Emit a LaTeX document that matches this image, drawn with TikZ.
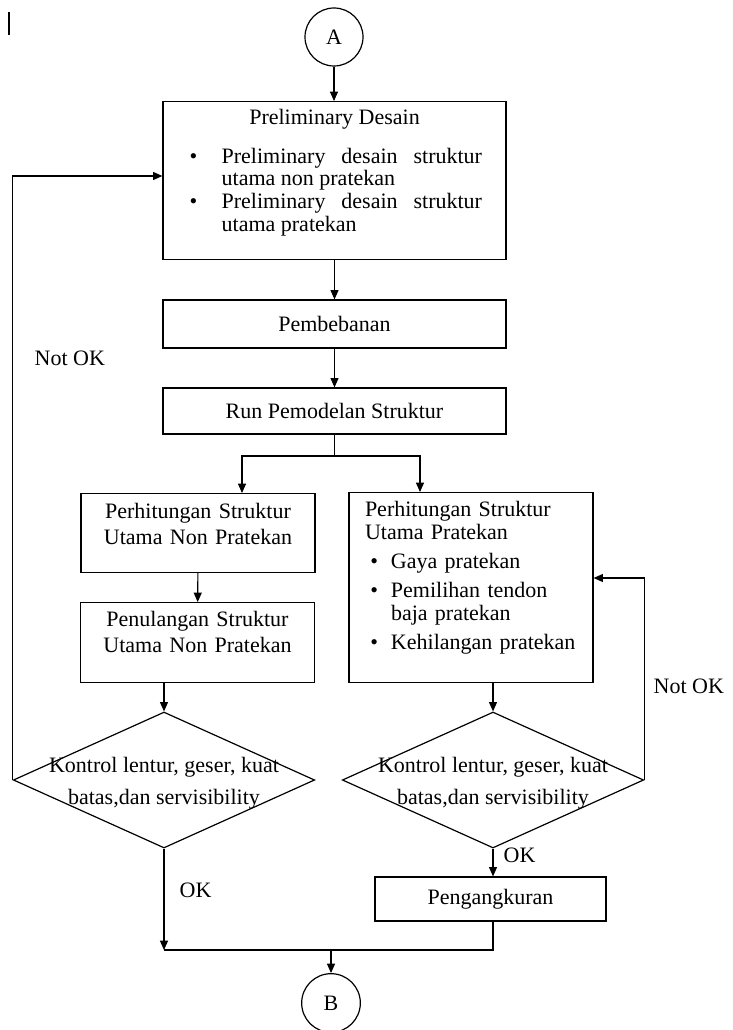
\documentclass[tikz,border=0pt]{standalone}
\usepackage{fontspec}
\setmainfont{Liberation Serif}
\usepackage{tikz}
\usetikzlibrary{positioning,arrows.meta,shapes.geometric,calc}
\definecolor{cInk}{HTML}{000000}
\setlength{\parindent}{0pt}
% bullet line: #1 bullet offset, #2 text indent, #3 text
\newcommand{\bulitem}[3]{\par\noindent\hangindent=#2\hangafter=1\makebox[#2][l]{\hspace*{#1}\textbullet}#3\par}

\begin{document}
\begin{tikzpicture}[
  x=0.75pt, y=-0.75pt,
  font=\fontsize{16.5}{19.5}\selectfont,
  line/.style={-{Triangle[length=7pt,width=6pt]}, cInk, line width=0.8pt},
  wire/.style={cInk, line width=0.8pt},
  box/.style={draw=cInk, line width=0.9pt, rectangle, inner xsep=3pt, inner ysep=4pt},
  conn/.style={draw=cInk, line width=0.9pt, circle, inner sep=0pt},
  decide/.style={draw=cInk, line width=0.9pt, diamond, minimum width=226pt, minimum height=102pt, inner sep=0pt},
  dtxt/.style={align=center, font=\fontsize{16.5}{24}\selectfont},
  lbl/.style={anchor=west},
]
\useasboundingbox (0,0) rectangle (732,1030);
\draw[cInk, line width=1.4pt] (9,12) -- (9,35);

% ---------- top: connector A, preliminary design ----------
\node[conn, minimum size=43.5pt] (conA) at (334,37) {A};
\node[box, anchor=north, text width=221.25pt, inner xsep=18pt, align=justify,
      text height=13.25pt, text depth=97.25pt, font=\fontsize{16.5}{17}\selectfont] (prelim) at (334.5,101)
  {{\centering Preliminary Desain\par}\vspace{12pt}
   \bulitem{2pt}{26pt}{Preliminary desain struktur\linebreak utama non pratekan}
   \bulitem{2pt}{26pt}{Preliminary desain struktur\linebreak utama pratekan}};

% ---------- loading and model run ----------
\node[box, minimum width=257.25pt, minimum height=36pt] (pemb) at (334.5,324) {Pembebanan};
\node[box, minimum width=257.25pt, minimum height=34.5pt] (run) at (334.5,411) {Run Pemodelan Struktur};

% ---------- left branch: non prestressed ----------
\node[box, anchor=north, text width=160pt, inner xsep=7.75pt, align=center,
      text height=14.75pt, text depth=36.5pt] (hitNP) at (198,493)
  {Perhitungan Struktur\\Utama Non Pratekan};
\node[box, anchor=north, text width=160pt, inner xsep=8pt, align=center,
      text height=14pt, text depth=38pt] (tulNP) at (197.5,602)
  {Penulangan Struktur\\Utama Non Pratekan};
\node[decide] (kontNP) at (164,780) {};
\node[dtxt] (kontNPt) at (164,783) {Kontrol lentur, geser, kuat\\batas,dan servisibility};

% ---------- right branch: prestressed ----------
\node[box, anchor=north, text width=159pt, inner xsep=12pt, align=left,
      text height=14pt, text depth=120.5pt,
      font=\fontsize{16.5}{17.5}\selectfont\setlength{\parskip}{4pt}] (hitP) at (471,492)
  {Perhitungan Struktur\newline Utama Pratekan
   \bulitem{4pt}{19.5pt}{Gaya pratekan}
   \bulitem{4pt}{19.5pt}{Pemilihan tendon\newline baja pratekan}
   \bulitem{4pt}{19.5pt}{Kehilangan pratekan}};
\node[decide] (kontP) at (493,780) {};
\node[dtxt] (kontPt) at (493,783) {Kontrol lentur, geser, kuat\\batas,dan servisibility};
\node[box, minimum width=173.25pt, minimum height=33pt] (peng) at (490.5,899) {Pengangkuran};

% ---------- bottom connector ----------
\node[conn, minimum size=44pt] (conB) at (331,1003) {B};

% labels
\node[lbl] (notokL) at (30,358) {Not OK};
\node[lbl] (notokR) at (649,686) {Not OK};
\node[lbl] (okL) at (175,890) {OK};
\node[lbl] (okR) at (499,855) {OK};

% helper points
\coordinate (split) at (334.5,456);
\coordinate (toL) at (242,456);
\coordinate (toR) at (420,456);
\coordinate (loopL) at (0,176);
\coordinate (loopR) at (0,578);
\coordinate (merge) at (331,950);

% arrows
\draw[line] (conA.south) -- (conA.south |- prelim.north);
\draw[line] (prelim) -- (pemb);
\draw[line] (pemb) -- (run);
\draw[wire] (run) -- (split);
\draw[line] (split) -| (toL |- hitNP.north);
\draw[line] (split) -| (toR |- hitP.north);
\draw[line] (hitNP) -- (tulNP);
\draw[line] (tulNP.south -| kontNP.north) -- (kontNP.north);
\draw[line] (hitP.south -| kontP.north) -- (kontP.north);
\draw[line] (kontNP.west) |- (prelim.west |- loopL);
\draw[line] (kontP.east) |- (hitP.east |- loopR);
\draw[line] (kontNP.south) -- (kontNP.south |- merge);
\draw[line] (kontP.south) -- (kontP.south |- peng.north);
\draw[wire] (peng.south -| kontP.south) |- (kontNP.south |- merge);
\draw[line] (merge) -- (conB.north);

\end{tikzpicture}
\end{document}
